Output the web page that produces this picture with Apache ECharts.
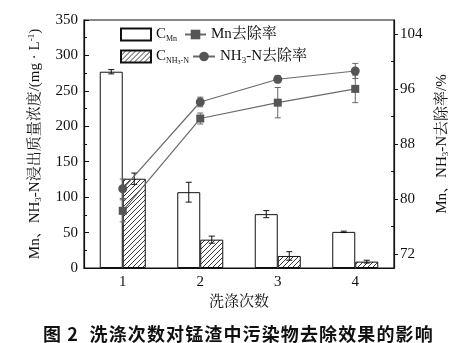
<!DOCTYPE html>
<html><head><meta charset="utf-8">
<script src="https://cdn.jsdelivr.net/npm/echarts@6/dist/echarts.min.js"></script>
<style>html,body{margin:0;padding:0;background:#fff}#c{width:472px;height:343px}</style>
</head><body><div id="c"></div>
<script>
const categories = ['1', '2', '3', '4'];
const mnConc = [277, 107, 76, 51];
const mnConcErr = [3, 14, 5, 1];
const nh3Conc = [126, 40, 17, 9];
const nh3ConcErr = [8, 5, 6, 2];
const mnRate = [78.3, 91.7, 94.0, 96.0];
const mnRateErr = [1.6, 0.8, 2.2, 2.0];
const nh3Rate = [81.5, 94.1, 97.4, 98.6];
const nh3RateErr = [1.4, 0.7, 0.5, 1.1];
const leftTicks = [0, 50, 100, 150, 200, 250, 300, 350];
const rightTicks = [72, 80, 88, 96, 104];
const rightMinorTicks = [76, 84, 92, 100];
const caption = '图 2  洗涤次数对锰渣中污染物去除效果的影响';

const FONT = '"Liberation Serif", "Noto Serif CJK SC", "Noto Sans CJK SC", serif';

// hatch pattern
const pc = document.createElement('canvas');
pc.width = 5; pc.height = 5;
const pctx = pc.getContext('2d');
pctx.fillStyle = '#fff'; pctx.fillRect(0, 0, 5, 5);
pctx.strokeStyle = '#222'; pctx.lineWidth = 0.9;
pctx.beginPath();
pctx.moveTo(-1, 6); pctx.lineTo(6, -1);
pctx.moveTo(-1, 1); pctx.lineTo(1, -1);
pctx.moveTo(4, 6); pctx.lineTo(6, 4);
pctx.stroke();
const hatch = { image: pc, repeat: 'repeat' };

const chart = echarts.init(document.getElementById('c'), null, { renderer: 'canvas' });

function errBarRender(offset, capHalf, color) {
  return function (params, api) {
    const x = api.value(0), v = api.value(1), e = api.value(2);
    const top = api.coord([x, v + e]);
    const bot = api.coord([x, v - e]);
    const cx = top[0] + offset;
    const st = { stroke: color, lineWidth: 1 };
    return {
      type: 'group',
      children: [
        { type: 'line', shape: { x1: cx, y1: top[1], x2: cx, y2: bot[1] }, style: st },
        { type: 'line', shape: { x1: cx - capHalf, y1: top[1], x2: cx + capHalf, y2: top[1] }, style: st },
        { type: 'line', shape: { x1: cx - capHalf, y1: bot[1], x2: cx + capHalf, y2: bot[1] }, style: st }
      ]
    };
  };
}

const rich = {
  t: { fontFamily: FONT, fontSize: 15, color: '#111' },
  s: { fontFamily: FONT, fontSize: 9, color: '#111', padding: [7, 0, 0, 0] },
  p: { fontFamily: FONT, fontSize: 9, color: '#111', padding: [0, 0, 7, 0] }
};

const legendNames = {
  'CMn': '{t|C}{s|Mn}',
  'CNH3N': '{t|C}{s|NH}{ss|3}{s|-N}',
  'Mn去除率': '{t|Mn去除率}',
  'NH3-N去除率': '{t|NH}{s2|3}{t|-N去除率}'
};
const legendRich = {
  t: { fontFamily: FONT, fontSize: 15, color: '#111' },
  s: { fontFamily: FONT, fontSize: 8, color: '#111', padding: [8, 0, 0, 0] },
  s2: { fontFamily: FONT, fontSize: 9, color: '#111', padding: [8, 0, 0, 0] },
  ss: { fontFamily: FONT, fontSize: 6, color: '#111', padding: [11, 0, 0, 0] }
};

function leg(name, left, top, w, icon) {
  const d = { name: name };
  if (icon) d.icon = icon;
  return {
    orient: 'horizontal', left: left, top: top, itemWidth: w, itemHeight: 12,
    data: [d], formatter: n => legendNames[n], textStyle: { rich: legendRich }
  };
}

chart.setOption({
  animation: false,
  backgroundColor: '#fff',
  grid: { left: 84, right: 78, top: 20, bottom: 75, show: true, borderColor: '#111', borderWidth: 1.2, backgroundColor: 'transparent' },
  title: {
    text: caption.split('').join('\u200A'),
    left: 38, top: 320,
    textStyle: { fontFamily: '"Noto Sans CJK SC", sans-serif', fontWeight: 'bold', fontSize: 18, color: '#111' }
  },
  legend: [
    leg('CMn', 115, 22, 30, 'rect'),
    leg('Mn去除率', 179, 22, 21),
    leg('CNH3N', 115, 44, 30, 'rect'),
    leg('NH3-N去除率', 187, 44, 22)
  ],
  xAxis: {
    type: 'category', data: categories,
    name: '洗涤次数', nameLocation: 'middle', nameGap: 27,
    nameTextStyle: { fontFamily: FONT, fontSize: 15, color: '#111' },
    axisLine: { lineStyle: { color: '#111', width: 1.2 } },
    axisTick: { show: false },
    axisLabel: { fontFamily: FONT, fontSize: 15, color: '#111', margin: 7 }
  },
  yAxis: [
    {
      type: 'value', min: 0, max: 350, interval: 50, position: 'left',
      name: '{t|Mn、NH}{s|3}{t|-N浸出质量浓度/(mg · L}{p|-1}{t|)}',
      nameLocation: 'middle', nameGap: 41, nameRotate: 90,
      nameTextStyle: { rich: rich },
      axisLine: { show: true, lineStyle: { color: '#111', width: 1.2 } },
      axisTick: { show: true, inside: true, length: 5, lineStyle: { color: '#111' } },
      minorTick: { show: true, splitNumber: 2, length: 3, lineStyle: { color: '#111' } },
      axisLabel: { fontFamily: FONT, fontSize: 15, color: '#111', margin: 6, customValues: leftTicks },
      splitLine: { show: false }
    },
    {
      type: 'value', min: 70, max: 106, position: 'right',
      name: '{t|Mn、NH}{s|3}{t|-N去除率/%}',
      nameLocation: 'middle', nameGap: 40, nameRotate: 90,
      nameTextStyle: { rich: rich },
      axisLine: { show: true, lineStyle: { color: '#111', width: 1.2 } },
      axisTick: { show: true, inside: false, length: 4, customValues: rightTicks, lineStyle: { color: '#111' } },
      axisLabel: { fontFamily: FONT, fontSize: 15, color: '#111', margin: 6, customValues: rightTicks },
      splitLine: { show: false }
    },
    {
      type: 'value', min: 70, max: 106, position: 'right',
      axisLine: { show: false },
      axisTick: { show: true, inside: true, length: 3, customValues: rightMinorTicks, lineStyle: { color: '#111' } },
      axisLabel: { show: false },
      splitLine: { show: false }
    }
  ],
  series: [
    {
      name: 'CMn', type: 'bar', data: mnConc, barWidth: 23, barGap: '0%',
      itemStyle: { color: '#fff', borderColor: '#111', borderWidth: 1 }
    },
    {
      name: 'CNH3N', type: 'bar', data: nh3Conc, barWidth: 23, barGap: '0%',
      itemStyle: { color: hatch, borderColor: '#111', borderWidth: 1 }
    },
    {
      type: 'custom', name: 'errMn', yAxisIndex: 0, z: 5,
      data: mnConc.map((v, i) => [i, v, mnConcErr[i]]),
      encode: { x: 0, y: 1 },
      renderItem: errBarRender(-11.5, 3, '#111')
    },
    {
      type: 'custom', name: 'errNH', yAxisIndex: 0, z: 5,
      data: nh3Conc.map((v, i) => [i, v, nh3ConcErr[i]]),
      encode: { x: 0, y: 1 },
      renderItem: errBarRender(11.5, 3, '#111')
    },
    {
      name: 'Mn去除率', type: 'line', yAxisIndex: 1, data: mnRate, z: 10,
      symbol: 'rect', symbolSize: 8,
      lineStyle: { color: '#6a6a6a', width: 1.2 },
      itemStyle: { color: '#555' }
    },
    {
      name: 'NH3-N去除率', type: 'line', yAxisIndex: 1, data: nh3Rate, z: 10,
      symbol: 'circle', symbolSize: 9,
      lineStyle: { color: '#6a6a6a', width: 1.2 },
      itemStyle: { color: '#555' }
    },
    {
      type: 'custom', name: 'errMnR', yAxisIndex: 1, z: 9,
      data: mnRate.map((v, i) => [i, v, mnRateErr[i]]),
      encode: { x: 0, y: 1 },
      renderItem: errBarRender(0, 3, '#666')
    },
    {
      type: 'custom', name: 'errNHR', yAxisIndex: 1, z: 9,
      data: nh3Rate.map((v, i) => [i, v, nh3RateErr[i]]),
      encode: { x: 0, y: 1 },
      renderItem: errBarRender(0, 3, '#666')
    }
  ]
});
</script>
</body></html>
